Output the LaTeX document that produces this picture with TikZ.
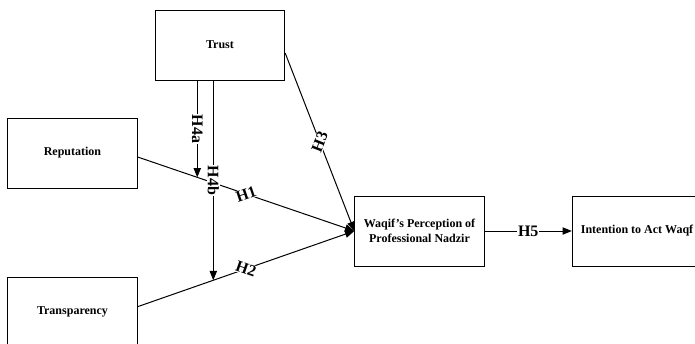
\documentclass[tikz,border=0pt]{standalone}
\usepackage{fontspec}
\setmainfont{Liberation Serif}
\usetikzlibrary{arrows.meta}

\tikzset{every picture/.style={line width=0.75pt}}
\tikzset{
  varbox/.style={draw, minimum width=97pt, minimum height=52.5pt, align=center, font=\fontsize{9}{11}\selectfont\bfseries},
  hyplabel/.style={fill=white, inner sep=0.5pt, font=\fontsize{12}{14}\selectfont\bfseries},
  hyparrow/.style={-{Triangle[length=7pt,width=5.5pt]}}
}

\begin{document}
\begin{tikzpicture}[x=0.75pt,y=0.75pt,yscale=-1,xscale=1]
        \useasboundingbox (0,0) rectangle (695,343);
        \node [varbox] (trust) at (220,45) {Trust};
        \node [varbox] (reputation) at (72.5,153) {Reputation};
        \node [varbox] (transparency) at (72.5,312) {Transparency};
        \node [varbox] (perception) at (419.5,231) {Waqif's Perception of\\Professional Nadzir};
        \node [varbox] (intention) at (637,231) {Intention to Act Waqf};
        \draw [hyparrow] ([yshift=3pt]reputation.east) -- coordinate [pos=0.275] (h1cut) node [hyplabel, sloped, midway] {H1} (perception.west);
        \draw [hyparrow] ([yshift=-4pt]transparency.east) -- coordinate [pos=0.349] (h2cut) node [hyplabel, sloped, midway] {H2} (perception.west);
        \draw [hyparrow] ([yshift=6pt]trust.east) -- node [hyplabel, sloped, midway] {H3} (perception.west);
        \draw [hyparrow] (trust.south -| h1cut) -- node [hyplabel, rotate=-90] {H4a} (h1cut);
        \draw [hyparrow] (trust.south -| h2cut) -- node [hyplabel, rotate=-90] {H4b} (h2cut);
        \draw [hyparrow] (perception.east) -- node [hyplabel] {H5} (intention.west);
\end{tikzpicture}
\end{document}
